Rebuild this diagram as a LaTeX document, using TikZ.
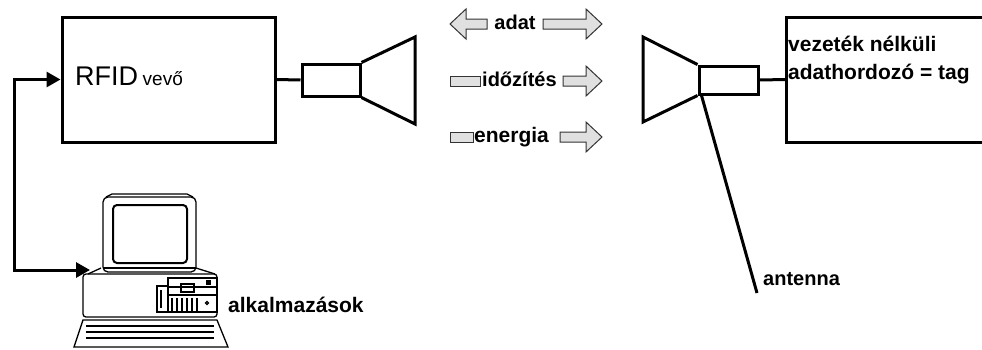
\documentclass[tikz,border=0pt]{standalone}
\usepackage{fontspec}
\setmainfont{Liberation Sans}
\usetikzlibrary{arrows.meta}
\begin{document}
\begin{tikzpicture}[x=1pt,y=-1pt,
  block/.style={draw, line width=3pt, inner sep=0pt},
  feed/.style={draw, line width=3pt, inner sep=0pt},
  link/.style={line width=3pt},
  lbl/.style={font=\bfseries\fontsize{20}{28}\selectfont, inner sep=0pt},
  midlbl/.style={lbl, font=\bfseries\fontsize{21}{28}\selectfont},
  flow/.style={draw=black!80, fill=black!12, line width=1pt, line join=miter},
  pc/.style={line width=1.3pt},
]
\useasboundingbox (0,0) rectangle (982,349);
\clip (0,0) rectangle (982,349);

% RFID reader
\node[block, minimum width=213pt, minimum height=125pt] (rfid) at (168.5,79.5) {};
\node[anchor=base west, inner sep=0pt] (rfidtxt) at (75,85)
  {\fontsize{27}{27}\selectfont RFID\,\fontsize{19}{19}\selectfont vevő};

% reader antenna (horn)
\node[feed, minimum width=58pt, minimum height=32pt] (lfeed) at (331,80) {};
\draw[link, line join=miter] (lfeed.north east) -- (415,37) -- (415,124) -- (lfeed.south east);
\draw[link] (rfid.east) -- (lfeed.west);

% tag antenna (horn)
\node[feed, minimum width=59pt, minimum height=28pt] (rfeed) at (728.5,80) {};
\draw[link, line join=miter] (rfeed.north west) -- (643,37) -- (643,122) -- (rfeed.south west);

% tag block
\node[block, minimum width=230pt, minimum height=125pt, anchor=west] (tag) at (785,79.5) {};
\draw[link] (rfeed.east) -- (tag.west);
\node[midlbl, anchor=north west, align=left] (tagtxt) at (788,36) {vezeték nélküli\\adathordozó = tag};

% antenna wire
\coordinate (antend) at (757,293);
\draw[link] ([xshift=4pt]rfeed.south west) -- (antend);
\node[lbl, anchor=base west] (anttxt) at (763,285) {antenna};

% data / timing / energy flows
\draw[flow] (487,19) -- (466,19) -- (466,9) -- (450,24) -- (466,39) -- (466,29) -- (487,29) -- cycle;
\draw[flow] (543,19) -- (586,19) -- (586,9) -- (602,24) -- (586,39) -- (586,29) -- (543,29) -- cycle;
\node[lbl, anchor=base] (adat) at (515,29) {adat};

\draw[flow] (450,76) rectangle (480,86);
\draw[flow] (563,76) -- (586,76) -- (586,66) -- (602,81) -- (586,96) -- (586,86) -- (563,86) -- cycle;
\node[lbl, anchor=base west] (idozites) at (482,86) {időzítés};

\draw[flow] (450,132) rectangle (473,142);
\draw[flow] (560,132) -- (586,132) -- (586,122) -- (602,137) -- (586,152) -- (586,142) -- (560,142) -- cycle;
\node[midlbl, anchor=base west] (energia) at (474,142) {energia};

% computer
\begin{scope}[pc]
  % monitor
  \draw[rounded corners=5pt] (103,197) rectangle (196,272);
  \draw (106,197) -- (112,194) -- (187,194) -- (193,197);
  \draw[line width=2pt, rounded corners=4pt] (113,205) rectangle (187,263);
  \draw (103,268) -- (196,268);
  % stand
  \draw (88,274) -- (101,268);
  \draw (196,268) -- (215,274);
  % system unit
  \draw[rounded corners=3pt] (83,274) rectangle (217,317);
  \draw (168,278) rectangle (217,312);
  \draw (157,286) rectangle (168,312);
  \draw (161,290) -- (161,308);
  \draw (168,287) -- (217,287);
  \draw (168,295) -- (217,295);
  \draw (181,284) rectangle (194,292);
  \fill (206,280) rectangle (211,285);
  \foreach \x in {172,177,...,197} \draw (\x,298) -- (\x,311);
  \draw (207,303) circle (1.5pt);
  % keyboard
  \draw (83,320) -- (217,320) -- (228,347) -- (74,347) -- cycle;
  \foreach \y in {326,332,338} \draw (86,\y) -- (214,\y);
\end{scope}
\node[midlbl, anchor=base west] (apps) at (228,312) {alkalmazások};

% link between computer and reader
\coordinate (pcin) at (90,270);
\coordinate (bend) at (14,79.5);
\draw[link, {Triangle[length=14pt,width=15pt]}-{Triangle[length=14pt,width=15pt]}]
  (pcin) -| (bend) -- (rfid.west);
\end{tikzpicture}
\end{document}
